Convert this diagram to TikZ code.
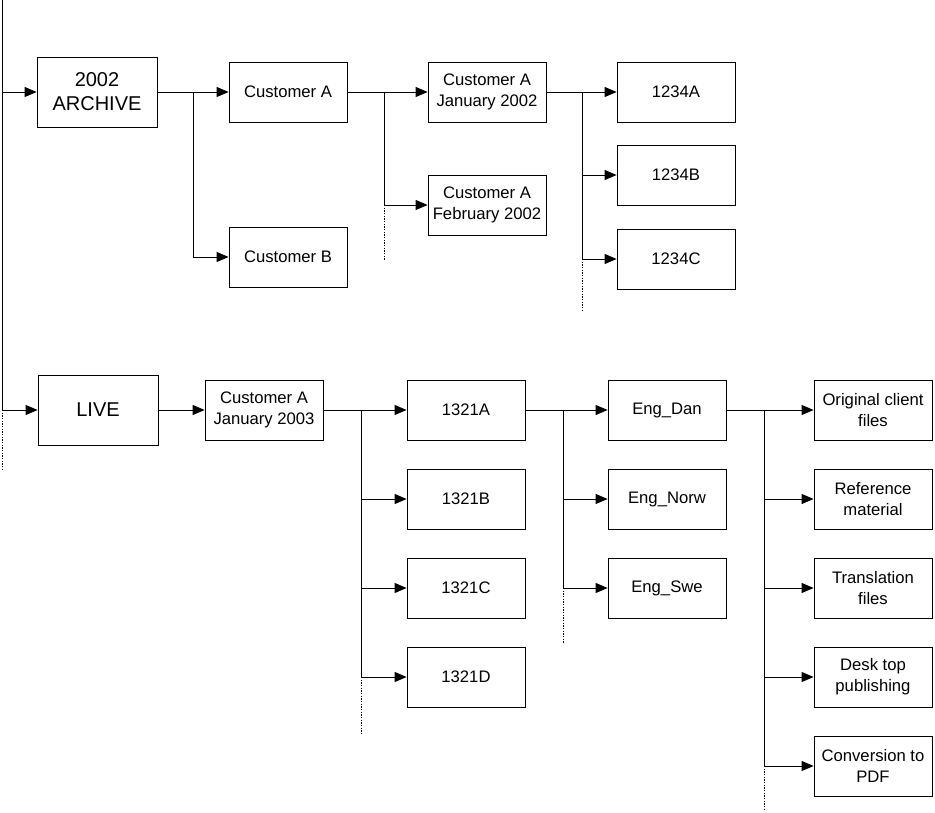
\documentclass[tikz,border=0pt]{standalone}
\usepackage{fontspec}
\setmainfont{Liberation Sans}
\usetikzlibrary{arrows.meta}

\begin{document}
\begin{tikzpicture}[x=0.75pt,y=-0.75pt,
	folder/.style={draw, line width=0.6pt, minimum width=88.5pt, minimum height=45pt, align=center, inner sep=1pt, font=\fontsize{12.5}{15.5}\selectfont},
	bigfolder/.style={folder, minimum width=90pt, minimum height=52.5pt, font=\fontsize{15}{18}\selectfont},
	wire/.style={line width=0.6pt},
	feed/.style={wire, -{Triangle[length=9pt,width=7.5pt]}},
	more/.style={wire, dash pattern=on 1pt off 1pt}]

\useasboundingbox (0,0) rectangle (935,813);

% archive branch
\node[bigfolder] (archive) at (97,92) {2002\\ARCHIVE};
\node[folder] (custA) at (288,92) {Customer A};
\node[folder] (custB) at (288,257) {Customer B};
\node[folder] (janOld) at (487,92) {Customer A\\January 2002};
\node[folder] (febOld) at (487,205) {Customer A\\February 2002};
\foreach \n/\y in {A/92,B/175,C/259}
{
	\node[folder] (job\n) at (676,\y) {1234\n};
}

% live branch
\node[bigfolder] (live) at (98,410) {LIVE};
\node[folder] (janNew) at (264,410) {Customer A\\January 2003};
\foreach \n/\y in {A/410,B/499,C/588,D/677}
{
	\node[folder] (proj\n) at (466,\y) {1321\n};
}
\foreach \n/\y in {Dan/410,Norw/499,Swe/588}
{
	\node[folder] (lang\n) at (667,\y) {Eng\_\n};
}
\foreach \t [count=\i] in {{Original client\\files},{Reference\\material},{Translation\\files},{Desk top\\publishing},{Conversion to\\PDF}}
{
	\node[folder] (part\i) at (873,321+89*\i) {\t};
}

% buses
\coordinate (spine) at (2,0);
\coordinate (busArch) at (193,0);
\coordinate (busCust) at (384,0);
\coordinate (busMonth) at (582,0);
\coordinate (busJob) at (361,0);
\coordinate (busProj) at (563,0);
\coordinate (busLang) at (764,0);

\draw[wire] (spine) -- (spine |- live);
\draw[feed] (spine |- archive) -- (archive);
\draw[feed] (spine |- live) -- (live);
\draw[more] (spine |- live) -- ++(0,60);

\draw[feed] (archive) -- (custA);
\draw[feed] (archive.east -| busArch) |- (custB);

\draw[feed] (custA) -- (janOld);
\draw[feed] (custA.east -| busCust) |- (febOld);
\draw[more] (febOld -| busCust) -- ++(0,55);

\draw[feed] (janOld) -- (jobA);
\foreach \n in {B,C}
{
	\draw[feed] (janOld.east -| busMonth) |- (job\n);
}
\draw[more] (jobC -| busMonth) -- ++(0,53);

\draw[feed] (live) -- (janNew);
\draw[feed] (janNew) -- (projA);
\foreach \n in {B,C,D}
{
	\draw[feed] (janNew.east -| busJob) |- (proj\n);
}
\draw[more] (projD -| busJob) -- ++(0,57);

\draw[feed] (projA) -- (langDan);
\foreach \n in {Norw,Swe}
{
	\draw[feed] (projA.east -| busProj) |- (lang\n);
}
\draw[more] (langSwe -| busProj) -- ++(0,55);

\draw[feed] (langDan) -- (part1);
\foreach \i in {2,...,5}
{
	\draw[feed] (langDan.east -| busLang) |- (part\i);
}
\draw[more] (part5 -| busLang) -- ++(0,45);

\end{tikzpicture}
\end{document}
